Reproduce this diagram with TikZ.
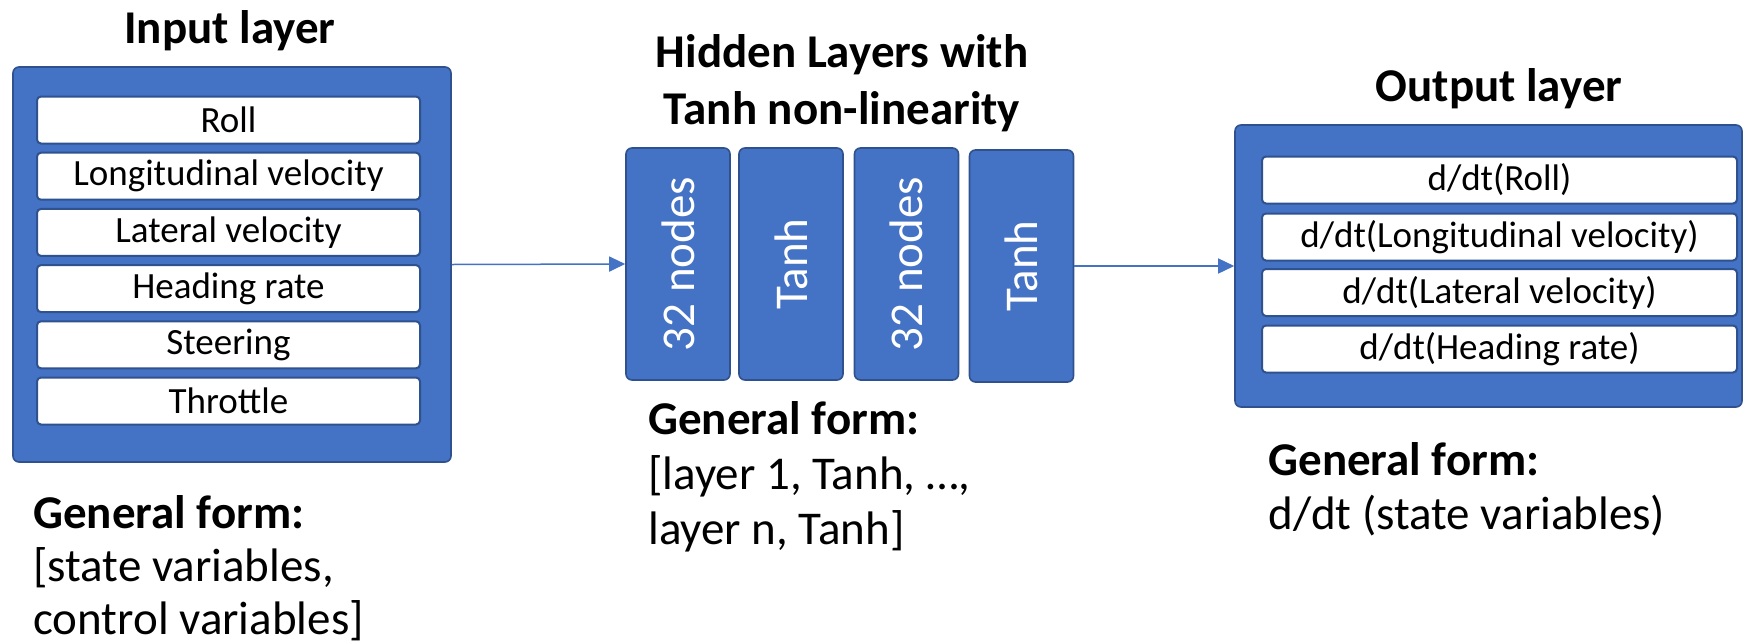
\documentclass[tikz,border=0pt]{standalone}
\usepackage{fontspec}
\setmainfont{Carlito}
\usetikzlibrary{arrows.meta,positioning}

\definecolor{layerblue}{HTML}{4472C4}
\definecolor{layeredge}{HTML}{2F528F}

\tikzset{
  layer/.style={draw=layeredge, fill=layerblue, line width=0.8pt, rounded corners=3pt, inner sep=0pt},
  row/.style={draw=layeredge, fill=white, line width=1pt, rounded corners=2pt, minimum height=23.5pt, inner sep=0pt, font=\fontsize{18.5}{22}\selectfont},
  hidden/.style={layer, minimum width=52pt, minimum height=116pt, text=white, font=\fontsize{23.5}{28}\selectfont},
  title/.style={font=\fontsize{23.5}{28.5}\selectfont\bfseries, align=center, inner sep=0pt},
  form/.style={font=\fontsize{23.5}{26.5}\selectfont, align=left, anchor=base west, inner sep=0pt},
  flow/.style={draw=layerblue, line width=0.75pt, -{Triangle[length=8pt,width=7.5pt]}}
}

\begin{document}
\begin{tikzpicture}[x=0.5pt, y=-0.5pt]
\useasboundingbox (0,0) rectangle (1744,643);

% input layer
\node[title, anchor=base] (intitle) at (230,43) {Input layer};
\node[layer, minimum width=219pt, minimum height=197.5pt] (inbox) at (232,264.5) {};
\node[row, minimum width=191.5pt] (roll) at (228.5,120) {Roll};
\node[row, minimum width=191.5pt] (lonvel) at (228.5,176.2) {Longitudinal velocity};
\node[row, minimum width=191.5pt] (latvel) at (228.5,232.4) {Lateral velocity};
\node[row, minimum width=191.5pt] (headrate) at (228.5,288.6) {Heading rate};
\node[row, minimum width=191.5pt] (steer) at (228.5,344.8) {Steering};
\node[row, minimum width=191.5pt] (throttle) at (228.5,401) {Throttle};
% base of a multi-line node is its last line
\node[form] (inform) at (33,634) {\textbf{General form:}\\{[}state variables,\\control variables]};

% hidden layers
\node[title, anchor=base] (hidtitle) at (842,124) {Hidden Layers with\\Tanh non-linearity};
\node[hidden] (lin1) at (678,264) {\rotatebox{90}{32 nodes}};
\node[hidden] (act1) at (791,264) {\rotatebox{90}{Tanh}};
\node[hidden] (lin2) at (906.5,264) {\rotatebox{90}{32 nodes}};
\node[hidden] (act2) at (1021.5,266) {\rotatebox{90}{Tanh}};
\node[form, font=\fontsize{23.5}{27.5}\selectfont] (hidform) at (648,544) {\textbf{General form:}\\{[}layer 1, Tanh, …,\\layer n, Tanh]};

% output layer
\node[title, anchor=base] (outtitle) at (1499,101) {Output layer};
\node[layer, minimum width=253.5pt, minimum height=141pt] (outbox) at (1488.5,266) {};
\node[row, minimum width=237.5pt] (droll) at (1499.5,180) {d/dt(Roll)};
\node[row, minimum width=237.5pt] (dlonvel) at (1499.5,237) {d/dt(Longitudinal velocity)};
\node[row, minimum width=237.5pt] (dlatvel) at (1499.5,292.5) {d/dt(Lateral velocity)};
\node[row, minimum width=237.5pt] (dheadrate) at (1499.5,349) {d/dt(Heading rate)};
\node[form, font=\fontsize{23.5}{27}\selectfont] (outform) at (1268,529) {\textbf{General form:}\\d/dt (state variables)};

\draw[flow] (inbox.east) -- (lin1.west);
\draw[flow] (act2.east) -- (outbox.west);
\end{tikzpicture}
\end{document}
